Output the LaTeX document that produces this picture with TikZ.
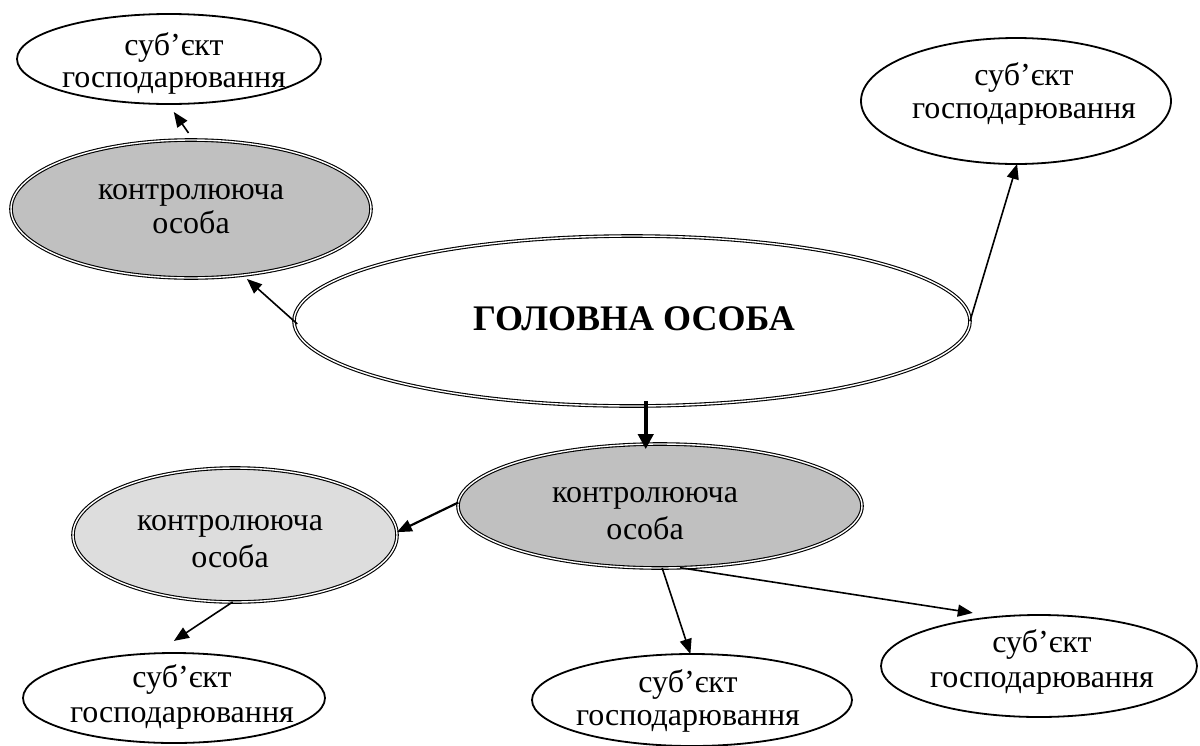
\documentclass[tikz,border=0pt]{standalone}
\usepackage{fontspec}
\setmainfont{Liberation Serif}
\usetikzlibrary{shapes.geometric,arrows.meta}
\definecolor{darkfill}{RGB}{192,192,192}
\definecolor{lightfill}{RGB}{221,221,221}
\begin{document}
\begin{tikzpicture}[x=0.5pt,y=-0.5pt,
  subj/.style={ellipse, draw, line width=0.9pt, fill=white, inner sep=0pt, outer sep=0pt},
  ctrl/.style={ellipse, draw, line width=0.55pt, double, double distance=0.7pt, inner sep=0pt, outer sep=0pt},
  txt/.style={inner sep=0pt, outer sep=0pt, anchor=base, font=\fontsize{16pt}{16pt}\selectfont},
  bigtxt/.style={inner sep=0pt, outer sep=0pt, anchor=base, font=\fontsize{18pt}{18pt}\selectfont\bfseries},
  arr/.style={line width=0.8pt, -{Triangle[length=7.5pt,width=6pt]}},
  thickarr/.style={line width=2.2pt, -{Triangle[length=7.5pt,width=7.5pt]}},
]
\useasboundingbox (0,0) rectangle (1200,745);

% ellipses
\node[subj, minimum width=152pt, minimum height=45pt] (e1) at (169,59) {};
\node[ctrl, fill=darkfill, minimum width=180pt, minimum height=69pt] (e2) at (191,209) {};
\node[ctrl, fill=white, minimum width=338pt, minimum height=85pt] (e3) at (632,321) {};
\node[subj, minimum width=155pt, minimum height=63pt] (e4) at (1016,101) {};
\node[ctrl, fill=darkfill, minimum width=202pt, minimum height=62pt] (e5) at (660,506) {};
\node[ctrl, fill=lightfill, minimum width=162pt, minimum height=67pt] (e6) at (235,535) {};
\node[subj, minimum width=151pt, minimum height=45pt] (e7) at (174,698) {};
\node[subj, minimum width=160pt, minimum height=46pt] (e8) at (692,700) {};
\node[subj, minimum width=158pt, minimum height=51pt] (e9) at (1039,666) {};

% texts
\node[txt] (e1a) at (174,55) {суб’єкт};
\node[txt] (e1b) at (174,87) {господарювання};
\node[txt] (e2a) at (191,199) {контролююча};
\node[txt] (e2b) at (191,233) {особа};
\node[bigtxt] (e3a) at (634,330) {ГОЛОВНА ОСОБА};
\node[txt] (e4a) at (1024,85) {суб’єкт};
\node[txt] (e4b) at (1024,118) {господарювання};
\node[txt] (e5a) at (645,502) {контролююча};
\node[txt] (e5b) at (645,539) {особа};
\node[txt] (e6a) at (230,530) {контролююча};
\node[txt] (e6b) at (230,567) {особа};
\node[txt] (e7a) at (182,687) {суб’єкт};
\node[txt] (e7b) at (182,722) {господарювання};
\node[txt] (e8a) at (688,692) {суб’єкт};
\node[txt] (e8b) at (688,725) {господарювання};
\node[txt] (e9a) at (1042,652) {суб’єкт};
\node[txt] (e9b) at (1042,687) {господарювання};

% connectors
\draw[arr, shorten <=-2.2pt, shorten >=2.9pt] (e3.180) -- (e2.-52);
\draw[arr, shorten <=4.3pt, shorten >=4.85pt] (e2.88.3) -- (e1.-91.9);
\draw[arr] (e3.0) -- (e4.-89);
\draw[thickarr, shorten <=-2.5pt, shorten >=-2.5pt] (e5.103 |- e3.south) -- (e5.103);
\draw[arr, line width=1.1pt] (e5.179) -- (e6.1);
\draw[arr, shorten >=11.3pt] (e6.-92.6) -- (e7.113.9);
\draw[arr] (e5.-88.7) -- (e8.92);
\draw[arr, shorten >=12.6pt] (e5.-72) -- (e9.130.6);
\end{tikzpicture}
\end{document}
